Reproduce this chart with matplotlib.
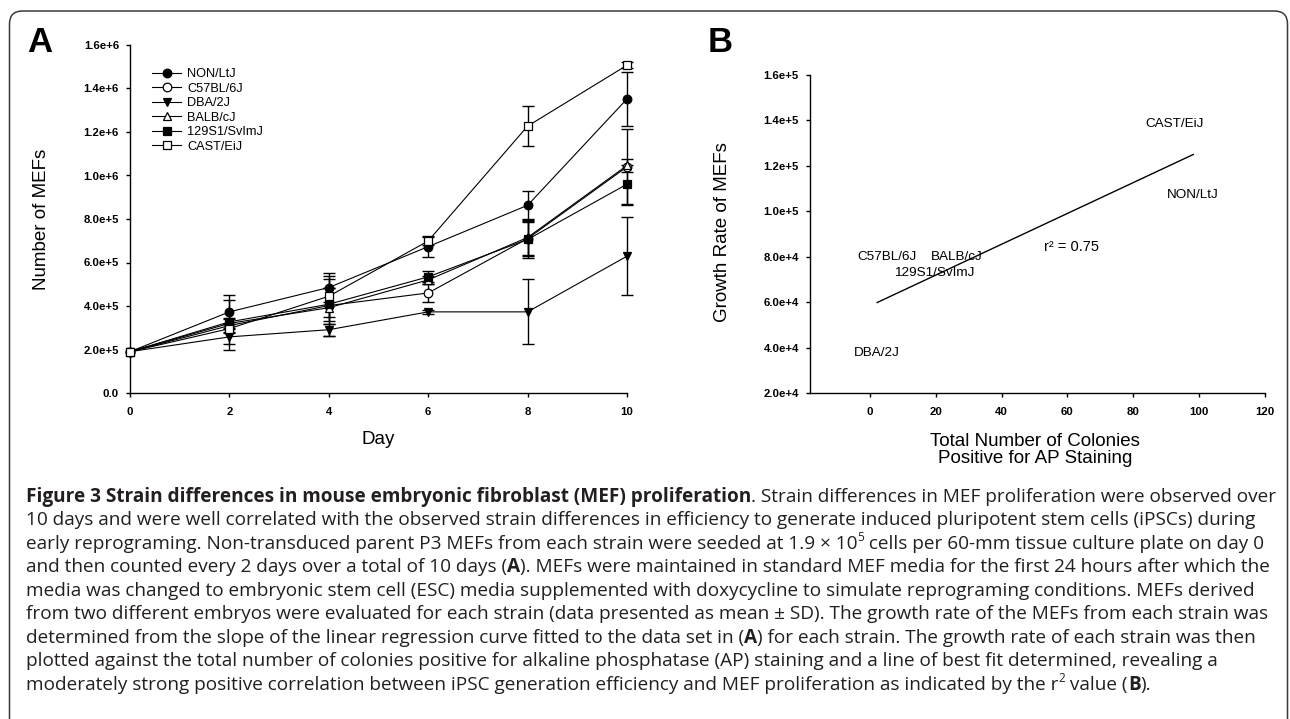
import numpy as np
import matplotlib
matplotlib.use("Agg")
import matplotlib.pyplot as plt
from matplotlib.patches import FancyBboxPatch

W, H = 1290, 719
PANEL_FONT = ["Liberation Sans", "DejaVu Sans"]
CAP_FONT = ["Open Sans", "DejaVu Sans"]

# ---- panel A: MEF counts over 10 days (mean +- SD)
days = [0, 2, 4, 6, 8, 10]
strains = ["NON/LtJ", "C57BL/6J", "DBA/2J", "BALB/cJ", "129S1/SvImJ", "CAST/EiJ"]
non_ltj = [1.9e5, 3.73e5, 4.85e5, 6.73e5, 8.63e5, 1.352e6]
c57bl = [1.9e5, 3.10e5, 4.02e5, 4.60e5, 7.10e5, 1.040e6]
dba = [1.9e5, 2.58e5, 2.91e5, 3.73e5, 3.73e5, 6.29e5]
balb = [1.9e5, 3.20e5, 3.92e5, 5.20e5, 7.15e5, 1.046e6]
s129 = [1.9e5, 3.27e5, 4.08e5, 5.34e5, 7.06e5, 9.60e5]
cast = [1.9e5, 2.96e5, 4.45e5, 6.99e5, 1.227e6, 1.507e6]
non_ltj_sd = [0, 7.6e4, 6.7e4, 5.0e4, 6.6e4, 1.25e5]
c57bl_sd = [0, 3.0e4, 8.3e4, 4.2e4, 7.5e4, 1.75e5]
dba_sd = [0, 5.9e4, 2.8e4, 1.0e4, 1.5e5, 1.8e5]
balb_sd = [0, 2.5e4, 1.3e5, 2.0e4, 8.5e4, 3.0e4]
s129_sd = [0, 1.0e5, 7.5e4, 2.5e4, 8.5e4, 9.0e4]
cast_sd = [0, 2.0e4, 9.5e4, 1.8e4, 9.3e4, 1.4e4]
a_yticks = [0, 2e5, 4e5, 6e5, 8e5, 1.0e6, 1.2e6, 1.4e6, 1.6e6]
a_yticklabels = ["0.0", "2.0e+5", "4.0e+5", "6.0e+5", "8.0e+5",
                 "1.0e+6", "1.2e+6", "1.4e+6", "1.6e+6"]

# ---- panel B: growth rate vs AP-positive colonies (same strain order)
colonies = [98.2, 5.3, 2.2, 26.3, 19.4, 92.5]
growth = [1.072e5, 7.98e4, 3.79e4, 7.98e4, 7.30e4, 1.383e5]
b_xticks = [0, 20, 40, 60, 80, 100, 120]
b_yticks = [2e4, 4e4, 6e4, 8e4, 1.0e5, 1.2e5, 1.4e5, 1.6e5]
b_yticklabels = ["2.0e+4", "4.0e+4", "6.0e+4", "8.0e+4",
                 "1.0e+5", "1.2e+5", "1.4e+5", "1.6e+5"]

series = [
    (non_ltj, non_ltj_sd, "o", "black"),
    (c57bl, c57bl_sd, "o", "white"),
    (dba, dba_sd, "v", "black"),
    (balb, balb_sd, "^", "white"),
    (s129, s129_sd, "s", "black"),
    (cast, cast_sd, "s", "white"),
]

caption = [
    [("Figure 3 Strain differences in mouse embryonic fibroblast (MEF) proliferation", "b"),
     (". Strain differences in MEF proliferation were observed over", "r")],
    [("10 days and were well correlated with the observed strain differences in efficiency "
      "to generate induced pluripotent stem cells (iPSCs) during", "r")],
    [("early reprograming. Non-transduced parent P3 MEFs from each strain were seeded at 1.9 \u00d7 10", "r"),
     ("5", "sup"), (" cells per 60-mm tissue culture plate on day 0", "r")],
    [("and then counted every 2 days over a total of 10 days (", "r"), ("A", "b"),
     ("). MEFs were maintained in standard MEF media for the first 24 hours after which the", "r")],
    [("media was changed to embryonic stem cell (ESC) media supplemented with doxycycline "
      "to simulate reprograming conditions. MEFs derived", "r")],
    [("from two different embryos were evaluated for each strain (data presented as mean \u00b1 SD). "
      "The growth rate of the MEFs from each strain was", "r")],
    [("determined from the slope of the linear regression curve fitted to the data set in (", "r"),
     ("A", "b"), (") for each strain. The growth rate of each strain was then", "r")],
    [("plotted against the total number of colonies positive for alkaline phosphatase (AP) "
      "staining and a line of best fit determined, revealing a", "r")],
    [("moderately strong positive correlation between iPSC generation efficiency and MEF "
      "proliferation as indicated by the r", "r"), ("2", "sup"), (" value (", "r"), ("B", "b"), (").", "r")],
]

plt.rcParams["font.family"] = PANEL_FONT
fig = plt.figure(figsize=(W / 100, H / 100), dpi=100)
bg = fig.add_axes([0, 0, 1, 1], zorder=-1)
bg.set_xlim(0, W)
bg.set_ylim(H, 0)
bg.axis("off")
bg.add_patch(FancyBboxPatch((9.5, 11), 1278, 760, boxstyle="round,pad=0,rounding_size=13",
                            facecolor="none", edgecolor="#3a3a3a", lw=1.1))
bg.text(27, 52, "A", fontsize=25, fontweight="bold", va="baseline")
bg.text(708, 52, "B", fontsize=25, fontweight="bold", va="baseline")


def style_axes(ax):
    for side in ("top", "right"):
        ax.spines[side].set_visible(False)
    for side in ("left", "bottom"):
        ax.spines[side].set_linewidth(1.0)
    ax.tick_params(direction="out", length=3, width=1.0, labelsize=8.2)
    ax.tick_params(axis="y", pad=5)
    ax.tick_params(axis="x", pad=7)
    for lab in ax.get_xticklabels() + ax.get_yticklabels():
        lab.set_fontweight("bold")


# ---- panel A
axa = fig.add_axes([130 / W, 1 - 393 / H, 497 / W, 348 / H])
for vals, sd, mk, face in series:
    axa.errorbar(days[1:], vals[1:], yerr=sd[1:], fmt="none", ecolor="black",
                 elinewidth=1.0, capsize=4.3, capthick=1.0, clip_on=False, zorder=2)
handles = []
for (vals, sd, mk, face), name in zip(series, strains):
    ln, = axa.plot(days, vals, color="black", lw=0.8, marker=mk,
                   ms=5.5 if mk == "s" else 6.2, mfc=face, mec="black", mew=0.9,
                   clip_on=False, zorder=3, label=name)
    handles.append(ln)
axa.set_xlim(0, 10)
axa.set_ylim(0, 1.6e6)
axa.set_xticks(days)
axa.set_yticks(a_yticks)
axa.set_yticklabels(a_yticklabels)
style_axes(axa)
axa.set_xlabel("Day", fontsize=13.5, va="center")
axa.xaxis.set_label_coords(0.5, -0.135)
axa.set_ylabel("Number of MEFs", fontsize=13.5, va="center")
axa.yaxis.set_label_coords(-0.179, 0.5)
fig.legend(handles=handles, loc="upper left", bbox_to_anchor=(152 / W, 1 - 68 / H),
           frameon=False, fontsize=9.2, handlelength=2.3, handletextpad=0.45,
           labelspacing=0.2, borderpad=0, borderaxespad=0)

# ---- panel B
axb = fig.add_axes([810 / W, 1 - 393.3 / H, 455 / W, 318.3 / H])
slope, icpt = np.polyfit(colonies, growth, 1)
r2 = np.corrcoef(colonies, growth)[0, 1] ** 2
xfit = np.array([min(colonies), max(colonies)])
axb.plot(xfit, slope * xfit + icpt, color="black", lw=1.0)
for name, cx, gy in zip(strains, colonies, growth):
    axb.text(cx, gy, name, fontsize=9.7, ha="center", va="center")
axb.text(61.3, 8.45e4, f"r\u00b2 = {r2:.2f}", fontsize=10.5, ha="center", va="center")
axb.set_xlim(-18.2, 120)
axb.set_ylim(2e4, 1.6e5)
axb.set_xticks(b_xticks)
axb.set_yticks(b_yticks)
axb.set_yticklabels(b_yticklabels)
style_axes(axb)
axb.set_xlabel("Total Number of Colonies\nPositive for AP Staining", fontsize=13.5,
               va="center", linespacing=1.05)
axb.xaxis.set_label_coords(0.495, -0.178)
axb.set_ylabel("Growth Rate of MEFs", fontsize=13.5, va="center")
axb.yaxis.set_label_coords(-0.192, 0.507)

# ---- caption, laid out segment by segment in pixel coordinates
renderer = fig.canvas.get_renderer()


def seg_width(s, size, weight):
    probe = bg.text(0, 0, "|" + s + "|", fontsize=size, fontweight=weight, family=CAP_FONT)
    bar = bg.text(0, 0, "||", fontsize=size, fontweight=weight, family=CAP_FONT)
    w = probe.get_window_extent(renderer).width - bar.get_window_extent(renderer).width
    probe.remove()
    bar.remove()
    return w


def line_width(line, size):
    return sum(seg_width(s, size * (0.62 if st == "sup" else 1.0),
                         "bold" if st == "b" else "normal") for s, st in line)


# one common size: first line (bold + regular) spans 26 -> ~1272 px
base = 12.0
size = base * 1246 / line_width(caption[0], base)
x0, y0, step = 26, 501.7, 23.5
for i, line in enumerate(caption):
    x, y = x0, y0 + i * step
    for s, st in line:
        fs = size * 0.62 if st == "sup" else size
        wt = "bold" if st == "b" else "normal"
        dy = -size / 0.72 * 0.38 if st == "sup" else 0
        bg.text(x, y + dy, s, fontsize=fs, fontweight=wt, family=CAP_FONT,
                va="baseline", ha="left", color="#231f20")
        x += seg_width(s, fs, wt)

fig.savefig("out.png", dpi=100)
